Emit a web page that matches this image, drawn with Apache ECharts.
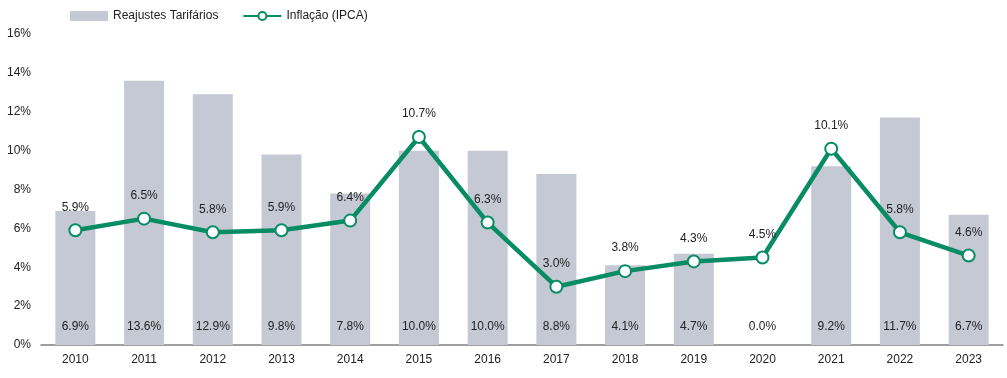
<!DOCTYPE html>
<html><head><meta charset="utf-8">
<script src="https://cdn.jsdelivr.net/npm/echarts@6/dist/echarts.min.js"></script>
<style>html,body{margin:0;padding:0;background:#fff}#c{width:1007px;height:378px}</style>
</head><body><div id="c"></div>
<script>
const categories = ['2010','2011','2012','2013','2014','2015','2016','2017','2018','2019','2020','2021','2022','2023'];
const reajustes = [6.9,13.6,12.9,9.8,7.8,10.0,10.0,8.8,4.1,4.7,0.0,9.2,11.7,6.7];
const ipca = [5.9,6.5,5.8,5.9,6.4,10.7,6.3,3.0,3.8,4.3,4.5,10.1,5.8,4.6];
const yTicks = [0,2,4,6,8,10,12,14,16];

const chart = echarts.init(document.getElementById('c'));
const font = 'Liberation Sans, Arial, sans-serif';
chart.setOption({
  animation:false,
  textStyle:{fontFamily:font},
  legend:{
    top:5, left:65, itemGap:24, itemWidth:38, itemHeight:10,
    textStyle:{fontSize:12,color:'#222',fontFamily:font},
    data:[{name:'Reajustes Tarifários',icon:'rect'},{name:'Inflação (IPCA)'}]
  },
  grid:{left:41,right:4,top:34,bottom:33},
  xAxis:{
    type:'category', data:categories,
    axisLine:{lineStyle:{color:'#808080',width:1.5}},
    axisTick:{show:false},
    axisLabel:{color:'#222',fontSize:12,margin:9,fontFamily:font}
  },
  yAxis:{
    type:'value', min:yTicks[0], max:yTicks[yTicks.length-1], interval:2,
    splitLine:{show:false}, axisLine:{show:false}, axisTick:{show:false},
    axisLabel:{color:'#222',fontSize:12,margin:10,formatter:v=>v+'%',fontFamily:font}
  },
  series:[
    {
      name:'Reajustes Tarifários', type:'bar', data:reajustes, barWidth:40,
      itemStyle:{color:'#c5c9d4'},
      label:{show:true,position:'insideBottom',distance:12,color:'#222',fontSize:12,
        formatter:p=>p.value.toFixed(1)+'%',fontFamily:font}
    },
    {
      name:'Inflação (IPCA)', type:'line', data:ipca,
      lineStyle:{color:'#078c63',width:4.5},
      itemStyle:{color:'#fff',borderColor:'#078c63',borderWidth:2},
      symbol:'circle', symbolSize:12,
      label:{show:true,position:'top',distance:10,color:'#222',fontSize:12,
        formatter:p=>p.value.toFixed(1)+'%',fontFamily:font},
      z:5
    }
  ]
});
</script></body></html>
